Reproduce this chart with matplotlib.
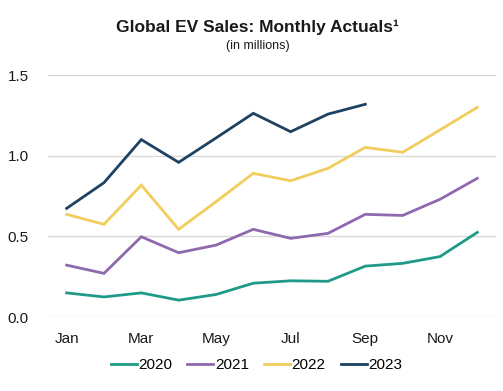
import matplotlib
matplotlib.use("Agg")
import matplotlib.pyplot as plt
import numpy as np

plt.rcParams['font.family'] = ['Liberation Sans', 'DejaVu Sans']

months = ['Jan', 'Feb', 'Mar', 'Apr', 'May', 'Jun',
          'Jul', 'Aug', 'Sep', 'Oct', 'Nov', 'Dec']

sales_2020 = [0.15, 0.125, 0.15, 0.105, 0.14, 0.21, 0.225, 0.222, 0.316, 0.333, 0.375, 0.525]
sales_2021 = [0.322, 0.271, 0.498, 0.399, 0.446, 0.544, 0.488, 0.519, 0.637, 0.630, 0.73, 0.86]
sales_2022 = [0.637, 0.575, 0.818, 0.544, 0.715, 0.891, 0.845, 0.922, 1.052, 1.021, 1.16, 1.30]
sales_2023 = [0.674, 0.833, 1.10, 0.959, 1.11, 1.263, 1.149, 1.258, 1.319]

series = [
    ('2020', sales_2020, '#1f9a88'),
    ('2021', sales_2021, '#8d6aae'),
    ('2022', sales_2022, '#f0cd5c'),
    ('2023', sales_2023, '#1d4262'),
]

fig = plt.figure(figsize=(5.03, 3.91), dpi=100)
ax = fig.add_axes([0.0954, 0.189, 0.8906, 0.619])

for name, vals, color in series:
    ax.plot(np.arange(len(vals)), vals, color=color, linewidth=2.0, label=name,
            solid_joinstyle='miter')

ax.set_xlim(-0.5, 11.5)
ax.set_ylim(0, 1.5)
ax.set_yticks([0, 0.5, 1.0, 1.5])
ax.set_yticklabels(['0.0', '0.5', '1.0', '1.5'])
ax.set_xticks(np.arange(0, 12, 2))
ax.set_xticklabels(months[::2])

ax.grid(axis='y', color='#d9d9d9', linewidth=1)
ax.set_axisbelow(True)
for s in ax.spines.values():
    s.set_visible(False)
ax.tick_params(axis='both', length=0, labelsize=11, colors='#1a1a1a')
ax.tick_params(axis='y', pad=14)
ax.tick_params(axis='x', pad=11)

fig.text(0.512, 0.931, 'Global EV Sales: Monthly Actuals\u00b9', ha='center', va='center',
         fontsize=12.5, fontweight='bold', color='#1a1a1a')
fig.text(0.512, 0.882, '(in millions)', ha='center', va='center',
         fontsize=9, color='#1a1a1a')

fig.legend(loc='center', bbox_to_anchor=(0.51, 0.066), ncol=4, frameon=False,
           fontsize=11, handlelength=1.7, handletextpad=0.1, columnspacing=1.0)

fig.savefig('out.png', dpi=100)
